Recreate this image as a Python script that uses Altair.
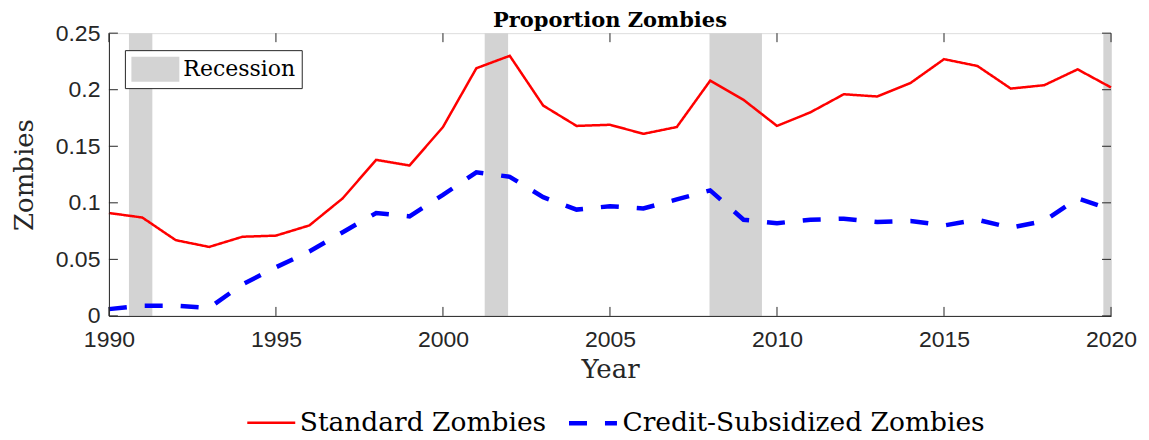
import altair as alt
import pandas as pd

title_text = ["Proportion Zombies"]
years = list(range(1990, 2021))
standard = [0.091, 0.087, 0.067, 0.061, 0.070, 0.071, 0.080, 0.104, 0.138, 0.133,
            0.167, 0.219, 0.230, 0.186, 0.168, 0.169, 0.161, 0.167, 0.208, 0.191,
            0.168, 0.180, 0.196, 0.194, 0.206, 0.227, 0.221, 0.201, 0.204, 0.218, 0.202]
credit = [0.006, 0.009, 0.009, 0.007, 0.028, 0.043, 0.057, 0.074, 0.091, 0.088,
          0.107, 0.127, 0.123, 0.105, 0.094, 0.097, 0.095, 0.103, 0.111, 0.085,
          0.082, 0.085, 0.086, 0.083, 0.084, 0.080, 0.085, 0.078, 0.084, 0.104, 0.094]
series_names = ["Standard Zombies", "Credit-Subsidized Zombies"]
rec_start = [1990.6, 2001.25, 2007.98, 2019.77]
rec_end = [1991.3, 2001.95, 2009.55, 2020.0]
xticks = [1990, 1995, 2000, 2005, 2010, 2015, 2020]
yticks = [0, 0.05, 0.1, 0.15, 0.2, 0.25]

lines_df = pd.DataFrame({
    "Year": years * 2,
    "Value": standard + credit,
    "Series": [series_names[0]] * len(years) + [series_names[1]] * len(years),
})
rec_df = pd.DataFrame({"start": rec_start, "end": rec_end, "Type": ["Recession"] * len(rec_start)})
xt_df = pd.DataFrame({"t": xticks})
yt_df = pd.DataFrame({"t": yticks})
title_df = pd.DataFrame({"label": title_text})

W, H = 1003, 283
TK = 9
DARK = "#262626"

xs = alt.Scale(domain=[1990, 2020], nice=False, zero=False)
ys = alt.Scale(domain=[0, 0.25], nice=False, zero=False)

x_axis = alt.Axis(
    values=xticks, format="d", title="Year", grid=False, ticks=False, tickSize=0,
    labelFont="Liberation Sans", labelFontSize=23, labelColor=DARK, labelPadding=31,
    labelBaseline="alphabetic", labelFlush=False, labelOverlap=False,
    domainColor=DARK, domainWidth=1,
    titleFont="DejaVu Serif", titleFontSize=26, titleFontWeight="normal", titleColor=DARK,
    titleBaseline="alphabetic", titleY=62, zindex=1,
)
y_axis = alt.Axis(
    values=yticks, format="~g", title="Zombies", grid=False, ticks=False, tickSize=0,
    labelFont="Liberation Sans", labelFontSize=23, labelColor=DARK, labelPadding=9,
    labelFlush=False, labelOverlap=False,
    domainColor=DARK, domainWidth=1,
    titleFont="DejaVu Serif", titleFontSize=26, titleFontWeight="normal", titleColor=DARK,
    titleBaseline="alphabetic", titleX=-76, zindex=1,
)

rect = alt.Chart(rec_df).mark_rect(opacity=1).encode(
    x=alt.X("start:Q", scale=xs, axis=x_axis),
    x2="end:Q",
    y=alt.value(0),
    y2=alt.value(H),
    fill=alt.Fill(
        "Type:N",
        scale=alt.Scale(domain=["Recession"], range=["#d3d3d3"]),
        legend=alt.Legend(
            title=None, orient="none", legendX=16, legendY=17,
            symbolType="M-1,-1H2.84V1H-1Z", symbolSize=625, symbolStrokeWidth=0,
            symbolOpacity=1,
            labelFont="DejaVu Serif", labelFontSize=22, labelColor="black",
            labelOffset=27, padding=6.5, strokeColor=DARK, fillColor="white",
        ),
    ),
)

series_legend = alt.Legend(
    title=None, orient="none", legendX=137, legendY=364, direction="horizontal",
    symbolType="stroke", symbolSize=2304,
    labelFont="DejaVu Serif", labelFontSize=26.5, labelColor="black",
    labelOffset=3, columnPadding=13, padding=0, labelLimit=1000,
)

lines = alt.Chart(lines_df).mark_line(strokeCap="butt", strokeJoin="miter").encode(
    x=alt.X("Year:Q", scale=xs, axis=x_axis),
    y=alt.Y("Value:Q", scale=ys, axis=y_axis),
    color=alt.Color("Series:N", scale=alt.Scale(domain=series_names, range=["#ff0000", "#0000ff"]),
                    legend=series_legend),
    strokeDash=alt.StrokeDash("Series:N", scale=alt.Scale(domain=series_names, range=[[1, 0], [18, 18]]),
                              legend=series_legend),
    strokeWidth=alt.StrokeWidth("Series:N", scale=alt.Scale(domain=series_names, range=[2.5, 4.5]),
                                legend=series_legend),
)

xt_bottom = alt.Chart(xt_df).mark_rule(color=DARK, strokeWidth=1).encode(
    x=alt.X("t:Q", scale=xs), y=alt.value(H), y2=alt.value(H - TK))
xt_top = alt.Chart(xt_df).mark_rule(color=DARK, strokeWidth=1).encode(
    x=alt.X("t:Q", scale=xs), y=alt.value(0), y2=alt.value(TK))
yt_left = alt.Chart(yt_df).mark_rule(color=DARK, strokeWidth=1).encode(
    y=alt.Y("t:Q", scale=ys), x=alt.value(0), x2=alt.value(TK))
yt_right = alt.Chart(yt_df).mark_rule(color=DARK, strokeWidth=1).encode(
    y=alt.Y("t:Q", scale=ys), x=alt.value(W), x2=alt.value(W - TK))

title_mark = alt.Chart(title_df).mark_text(
    font="DejaVu Serif", fontSize=21, fontWeight="bold", color="black",
    align="center", baseline="alphabetic",
).encode(text="label:N", x=alt.value(W / 2), y=alt.value(-6))

chart = alt.layer(rect, lines, xt_bottom, xt_top, yt_left, yt_right, title_mark).properties(
    width=W, height=H,
    autosize=alt.AutoSizeParams(type="none"),
    padding={"left": 101, "top": 25, "right": 30, "bottom": 124},
).configure_view(stroke=DARK, strokeWidth=1).configure(background="white")

chart.save("out.html", embed_options={"renderer": "svg", "actions": False})
